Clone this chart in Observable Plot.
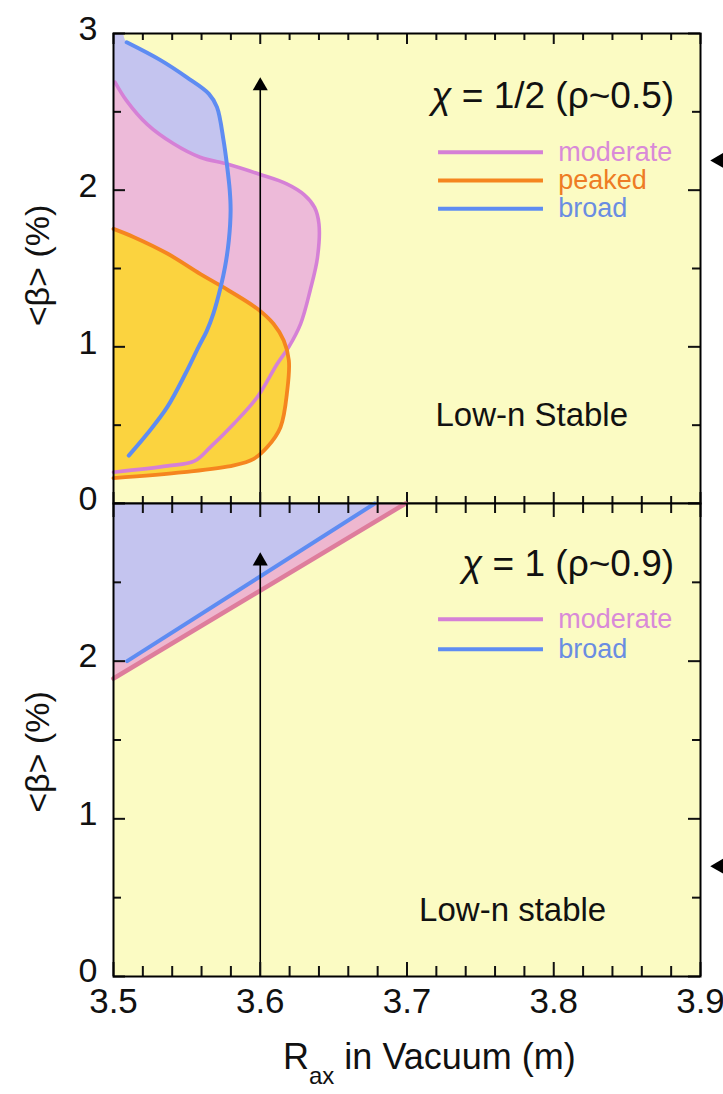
<!DOCTYPE html>
<html>
<head>
<meta charset="utf-8">
<script src="https://cdn.jsdelivr.net/npm/d3@7"></script>
<script src="https://cdn.jsdelivr.net/npm/@observablehq/plot@0.6"></script>
<style>
  body { margin: 0; background: white; }
  #chart { position: relative; width: 723px; height: 1094px; font-family: "Liberation Sans", Arial, sans-serif; }
  #chart svg { position: absolute; left: 0; overflow: visible; }
  #xtitle { position: absolute; top: 1036px; left: 283px; font-size: 36px; white-space: nowrap; color: #111; }
  #xtitle sub { font-size: 24px; vertical-align: -15px; }
</style>
</head>
<body>
<div id="chart"></div>
<script>
// ---------- data ----------
const xTickValues = [3.5, 3.6, 3.7, 3.8, 3.9];
const xMinorTicks = [3.52, 3.54, 3.56, 3.58, 3.62, 3.64, 3.66, 3.68, 3.72, 3.74, 3.76, 3.78, 3.82, 3.84, 3.86, 3.88];
const yMajorTicks = [0, 1, 2, 3];
const yMinorTicks = [0.5, 1.5, 2.5];
const yLabelsTop = [0, 1, 2, 3];
const yLabelsBottom = [0, 1, 2];

// top panel (chi = 1/2) boundaries: R_ax, <beta>
const broadTopR = [3.509, 3.532, 3.550, 3.565, 3.5705, 3.575, 3.5775, 3.5792, 3.5798, 3.5786, 3.576, 3.573, 3.568, 3.5635, 3.558, 3.549, 3.5366, 3.523, 3.5104];
const broadTopB = [2.944, 2.83, 2.72, 2.615, 2.53, 2.317, 2.147, 2.0, 1.87, 1.68, 1.51, 1.38, 1.21, 1.10, 1.0, 0.828, 0.615, 0.445, 0.306];
const broadTopCorner = {r: 3.507, b: 3.0};

const moderateTopR = [3.501, 3.509, 3.523, 3.541, 3.559, 3.578, 3.600, 3.618, 3.630, 3.637, 3.640, 3.639, 3.634, 3.6275, 3.6195, 3.6116, 3.598, 3.582, 3.566, 3.555, 3.537, 3.5];
const moderateTopB = [2.69, 2.57, 2.42, 2.296, 2.21, 2.165, 2.10, 2.04, 1.97, 1.89, 1.785, 1.57, 1.36, 1.147, 1.0, 0.892, 0.679, 0.509, 0.36, 0.27, 0.24, 0.20];

const peakedTopR = [3.5, 3.514, 3.537, 3.559, 3.573, 3.598, 3.609, 3.616, 3.6195, 3.6184, 3.6138, 3.6048, 3.5956, 3.582, 3.548, 3.5];
const peakedTopB = [1.753, 1.70, 1.594, 1.466, 1.39, 1.243, 1.147, 1.04, 0.913, 0.721, 0.487, 0.36, 0.285, 0.243, 0.20, 0.162];

// bottom panel (chi = 1) boundaries
const broadBottomR = [3.5093, 3.678];
const broadBottomB = [2.0, 3.0];
const moderateBottomR = [3.5, 3.699];
const moderateBottomB = [1.89, 3.0];

// vertical arrow at R_ax = 3.6
const arrowR = 3.6;
const arrowTipTop = 2.72;
const arrowTipBottom = 2.69;

// legends
const legendTopNames = ["moderate", "peaked", "broad"];
const legendTopB = [2.242, 2.061, 1.881];
const legendBottomNames = ["moderate", "broad"];
const legendBottomB = [2.266, 2.075];

const titleTop = "\u03C7 = 1/2 (\u03C1~0.5)";
const titleBottom = "\u03C7 = 1 (\u03C1~0.9)";
const noteTop = "Low-n Stable";
const noteBottom = "Low-n stable";
const yTitle = "<\u03B2> (%)";

// off-plot markers at right edge
const edgeMarkTop = {r: 3.913, b: 2.19};
const edgeMarkBottom = {r: 3.913, b: 0.70};

// ---------- styles ----------
const bg = "#FBFBC3";
const col = {
  broad: {line: "#5E8CF2", fill: "#C4C4EF", text: "#6A8DE2"},
  moderate: {line: "#D580D6", fill: "#EDBAD9", text: "#D98AD8"},
  peaked: {line: "#F5851F", fill: "#FBD33F", text: "#EE7C24"},
  moderateB: {line: "#DE7D9C", fill: "#EEB7CF"}
};
const W = 723, ML = 113, MR = 23;
const FW = W - ML - MR, FH = 470;

const zip = (R, B) => R.map((r, i) => ({r, b: B[i]}));

function tickMarks() {
  return [
    Plot.ruleX(xTickValues, {x: d => d, insetBottom: FH - 11, strokeWidth: 2}),
    Plot.ruleX(xTickValues, {x: d => d, insetTop: FH - 11, strokeWidth: 2}),
    Plot.ruleX(xMinorTicks, {x: d => d, insetBottom: FH - 7, strokeWidth: 2}),
    Plot.ruleX(xMinorTicks, {x: d => d, insetTop: FH - 7, strokeWidth: 2}),
    Plot.ruleY(yMajorTicks, {y: d => d, insetRight: FW - 12, strokeWidth: 2}),
    Plot.ruleY(yMajorTicks, {y: d => d, insetLeft: FW - 12, strokeWidth: 2}),
    Plot.ruleY(yMinorTicks, {y: d => d, insetRight: FW - 8, strokeWidth: 2}),
    Plot.ruleY(yMinorTicks, {y: d => d, insetLeft: FW - 8, strokeWidth: 2})
  ];
}

function legendMarks(names, B, title, titleB) {
  return [
    Plot.text([title], {x: 3.882, y: titleB, text: d => d, textAnchor: "end", fontSize: 37, fill: "#111"}),
    Plot.ruleY(names, {y: (d, i) => B[i], x1: 3.7215, x2: 3.793, stroke: d => col[d].line, strokeWidth: 4}),
    Plot.text(names, {x: 3.803, y: (d, i) => B[i], text: d => d, textAnchor: "start", fontSize: 27, fill: d => col[d].text})
  ];
}

function arrowMarks(tip) {
  return [
    Plot.ruleX([arrowR], {x: d => d, y1: 0, y2: tip - 0.08, strokeWidth: 1.6, stroke: "#000"}),
    Plot.dot([arrowR], {x: d => d, y: tip - 0.055, symbol: "triangle", r: 5.6, fill: "#000", stroke: null})
  ];
}

function baseOptions(height, marginTop, marginBottom) {
  return {
    width: W, height, marginLeft: ML, marginRight: MR, marginTop, marginBottom,
    x: {domain: [3.5, 3.9], axis: null},
    y: {domain: [0, 3], axis: null},
    style: {fontFamily: "'Liberation Sans', Arial, sans-serif", fontSize: "34px", background: "transparent", overflow: "visible", color: "#111"}
  };
}

const yTitleMark = (dy) => Plot.text([yTitle], {frameAnchor: "left", dx: -75, dy, rotate: -90, textAnchor: "middle", text: d => d, fontSize: 34, fill: "#111"});
const intFormat = d => String(d);

// ---------- top panel ----------
const broadTopFill = [broadTopCorner, ...zip(broadTopR, broadTopB)];
const topPlot = Plot.plot({
  ...baseOptions(503, 33, 0),
  marks: [
    Plot.frame({fill: bg, stroke: null}),
    Plot.areaX(broadTopFill, {y: "b", x1: 3.5, x2: "r", fill: col.broad.fill, curve: "catmull-rom"}),
    Plot.areaX(zip(moderateTopR, moderateTopB), {y: "b", x1: 3.5, x2: "r", fill: col.moderate.fill, curve: "catmull-rom"}),
    Plot.areaX(zip(peakedTopR, peakedTopB), {y: "b", x1: 3.5, x2: "r", fill: col.peaked.fill, curve: "catmull-rom"}),
    Plot.line(zip(moderateTopR, moderateTopB), {x: "r", y: "b", stroke: col.moderate.line, strokeWidth: 3.6, curve: "catmull-rom"}),
    Plot.line(zip(peakedTopR, peakedTopB), {x: "r", y: "b", stroke: col.peaked.line, strokeWidth: 3.8, curve: "catmull-rom"}),
    Plot.line(zip(broadTopR, broadTopB), {x: "r", y: "b", stroke: col.broad.line, strokeWidth: 4, curve: "catmull-rom", strokeLinecap: "round"}),
    ...arrowMarks(arrowTipTop),
    ...legendMarks(legendTopNames, legendTopB, titleTop, 2.598),
    Plot.text([noteTop], {x: 3.785, y: 0.56, text: d => d, fontSize: 33, fill: "#111"}),
    yTitleMark(-3),
    ...tickMarks(),
    Plot.frame({stroke: "#000", strokeWidth: 2}),
    Plot.axisY(yLabelsTop, {tickSize: 0, tickPadding: 16, dy: -4, fontSize: 34, label: null, tickFormat: intFormat}),
    Plot.dot([edgeMarkTop], {x: "r", y: "b", symbol: "triangle", rotate: -90, r: 6, fill: "#000", stroke: null})
  ]
});
topPlot.style.top = "0px";

// ---------- bottom panel ----------
const bottomPlot = Plot.plot({
  ...baseOptions(591, 0, 118),
  marks: [
    Plot.frame({fill: bg, stroke: null}),
    Plot.areaX(zip(moderateBottomR, moderateBottomB), {y: "b", x1: 3.5, x2: "r", fill: col.moderateB.fill}),
    Plot.areaX(zip(broadBottomR, broadBottomB), {y: "b", x1: 3.5, x2: "r", fill: col.broad.fill}),
    Plot.line(zip(moderateBottomR, moderateBottomB), {x: "r", y: "b", stroke: col.moderateB.line, strokeWidth: 4.5}),
    Plot.line(zip(broadBottomR, broadBottomB), {x: "r", y: "b", stroke: col.broad.line, strokeWidth: 4, strokeLinecap: "round"}),
    ...arrowMarks(arrowTipBottom),
    ...legendMarks(legendBottomNames, legendBottomB, titleBottom, 2.617),
    Plot.text([noteBottom], {x: 3.772, y: 0.42, text: d => d, fontSize: 33, fill: "#111"}),
    yTitleMark(12),
    ...tickMarks(),
    Plot.frame({stroke: "#000", strokeWidth: 2}),
    Plot.axisY(yLabelsBottom, {tickSize: 0, tickPadding: 16, dy: -5, fontSize: 34, label: null, tickFormat: intFormat}),
    Plot.axisX(xTickValues, {tickSize: 0, tickPadding: 12, fontSize: 35, label: null, tickFormat: d3.format(".1f")}),
    Plot.dot([edgeMarkBottom], {x: "r", y: "b", symbol: "triangle", rotate: -90, r: 6, fill: "#000", stroke: null})
  ]
});
bottomPlot.style.top = "503px";

// italic chi in the panel titles
for (const svg of [topPlot, bottomPlot]) {
  d3.select(svg).selectAll("text").each(function() {
    const t = this.textContent;
    if (t.startsWith("\u03C7")) {
      const sel = d3.select(this);
      sel.text(null);
      sel.append("tspan").attr("font-style", "italic").text("\u03C7");
      sel.append("tspan").text(t.slice(1));
    }
  });
}

const chart = document.getElementById("chart");
chart.append(topPlot, bottomPlot);
const xt = document.createElement("div");
xt.id = "xtitle";
xt.innerHTML = "R<sub>ax</sub> in Vacuum (m)";
chart.append(xt);
</script>
</body>
</html>
